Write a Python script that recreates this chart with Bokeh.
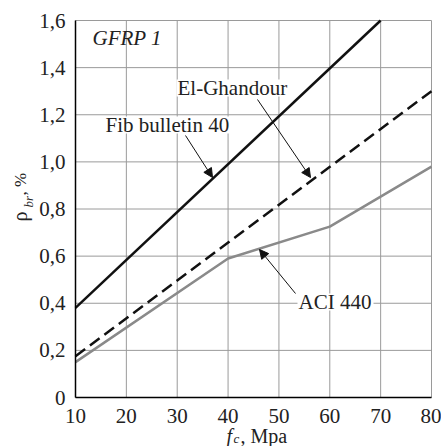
import math
from bokeh.plotting import figure
from bokeh.models import Label, Arrow, NormalHead, Range1d, BoxAnnotation
from bokeh.embed import file_html
from bokeh.resources import INLINE

# ---- data ----
fc_ticks = [10, 20, 30, 40, 50, 60, 70, 80]
fc_tick_labels = ["10", "20", "30", "40", "50", "60", "70", "80"]
rho_ticks = [0, 0.2, 0.4, 0.6, 0.8, 1.0, 1.2, 1.4, 1.6]
rho_tick_labels = ["0", "0,2", "0,4", "0,6", "0,8", "1,0", "1,2", "1,4", "1,6"]

fib_fc = [10, 70]
fib_rho = [0.38, 1.60]
elg_fc = [10, 80]
elg_rho = [0.175, 1.30]
aci_fc = [10, 40, 60, 80]
aci_rho = [0.15, 0.59, 0.725, 0.98]

# ---- layout: plot box inside the canvas (pixels) ----
W, H = 441, 446
L, R, T, B = 75, 10, 20, 49
FONT = "'Liberation Serif'"
X0, X1 = fc_ticks[0], fc_ticks[-1]
Y0, Y1 = rho_ticks[0], rho_ticks[-1]


def dx(px):
    return X0 + (px - L) * (X1 - X0) / (W - L - R)


def dy(py):
    return Y0 + (H - B - py) * (Y1 - Y0) / (H - T - B)


# the frame covers the whole canvas; axes are pinned at the plot box edges
p = figure(width=W, height=H, x_range=Range1d(dx(0), dx(W)), y_range=Range1d(dy(H), dy(0)),
           output_backend="svg", toolbar_location=None,
           min_border_left=0, min_border_right=0, min_border_top=0, min_border_bottom=0)
p.background_fill_color = "white"
p.border_fill_color = "white"
p.outline_line_color = None
p.xgrid.visible = False
p.ygrid.visible = False

p.xaxis.fixed_location = Y0
p.yaxis.fixed_location = X0
p.xaxis.bounds = (X0, X1)
p.yaxis.bounds = (Y0, Y1)
for ax, ticks, labels in ((p.xaxis, fc_ticks, fc_tick_labels), (p.yaxis, rho_ticks, rho_tick_labels)):
    ax.ticker = ticks
    ax.major_label_overrides = {t: l for t, l in zip(ticks, labels)}
    ax.axis_line_color = "black"
    ax.axis_line_width = 1.5
    ax.major_tick_line_color = None
    ax.minor_tick_line_color = None
    ax.major_label_text_font = FONT
    ax.major_label_text_font_size = "21px"
    ax.major_label_text_color = "#222222"
p.xaxis.major_label_standoff = 5
p.yaxis.major_label_standoff = 4

# grid lines (from the tick lists) - also give the top / right border
GRID = "#9a9a9a"
p.segment(x0=fc_ticks, y0=[Y0] * len(fc_ticks), x1=fc_ticks, y1=[Y1] * len(fc_ticks),
          line_color=GRID, line_width=1)
p.segment(x0=[X0] * len(rho_ticks), y0=rho_ticks, x1=[X1] * len(rho_ticks), y1=rho_ticks,
          line_color=GRID, line_width=1)

# ---- series ----
p.line(aci_fc, aci_rho, line_color="#8a8a8a", line_width=2.5)
p.line(elg_fc, elg_rho, line_color="#111111", line_width=2.5, line_dash="12 6")
p.line(fib_fc, fib_rho, line_color="#111111", line_width=2.5)


# ---- annotations ----
def white_box(px0, py0, px1, py1):
    p.add_layout(BoxAnnotation(left=dx(px0), right=dx(px1), top=dy(py0), bottom=dy(py1),
                               fill_color="white", fill_alpha=1.0, line_color=None, line_alpha=0))


def add_label(text, px, py, size="21px", style="normal", angle=0.0):
    # (px, py): left end of the text, vertical middle of the text
    p.add_layout(Label(x=dx(px), y=dy(py), text=text, text_font=FONT, text_font_size=size,
                       text_font_style=style, text_color="#222222", text_align="left",
                       text_baseline="middle", angle=angle))


white_box(104, 116, 233, 133)
white_box(176, 79, 289, 96)
white_box(297, 293, 373, 310)

add_label("GFRP 1", 92, 37, style="italic")
add_label("Fib bulletin 40", 105, 124)
add_label("El-Ghandour", 177, 87)
add_label("ACI 440", 298, 301)

for (x0, y0, x1, y1) in ((185, 135, 212, 177), (257, 99, 310, 177), (295, 293, 259, 249)):
    p.add_layout(Arrow(end=NormalHead(size=9, fill_color="#111111", line_color="#111111", line_width=1),
                       x_start=dx(x0), y_start=dy(y0), x_end=dx(x1), y_end=dy(y1),
                       line_color="#111111", line_width=1))

# axis titles built from pieces (subscripts)
add_label("f", 226, 435, size="20px", style="italic")
add_label("c", 233, 438, size="13px", style="italic")
add_label(", Mpa", 240, 435, size="20px")

add_label("\u03c1", 19, 221, size="20px", angle=math.pi / 2)
add_label("br", 28, 207, size="13px", style="italic", angle=math.pi / 2)
add_label(", %", 20, 195, size="17px", angle=math.pi / 2)

open("out.html", "w").write(file_html(p, INLINE))
